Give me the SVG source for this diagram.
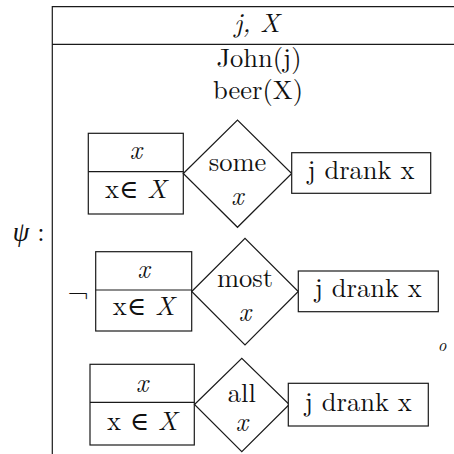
<svg xmlns="http://www.w3.org/2000/svg" width="454" height="454" viewBox="0 0 454 454">
<style>
.ln{fill:none;stroke:#1a1a1a;stroke-width:1.2}
.box{fill:#fff;stroke:#1a1a1a;stroke-width:1.2}
text{fill:#111;text-anchor:middle}
.it{font-style:italic}
.el{font-family:DejaVu Serif, serif;font-size:26px;font-style:normal;font-weight:normal}
</style>
<rect width="454" height="454" fill="#fff"/>
<g font-family="Latin Modern Roman, Liberation Serif, serif" font-size="26.5">
<g id="frame">
<path class="ln" d="M52.3,454 V6.7 H454 M52.3,44.3 H454"/>
<text x="257" y="32" class="it">j, X</text>
<text x="259" y="67">John(j)</text>
<text x="258" y="99">beer(X)</text>
<text x="21" y="241" class="it">ψ</text>
<text x="41" y="241">:</text>
</g>
<g id="connectors"/>
<g id="row1">
<g id="ref1">
<rect class="box" x="88.3" y="133.3" width="95" height="80.7"/>
<path class="ln" d="M88.3,171.7 H183.3"/>
<text x="135.8" y="159" class="it">x</text>
<text x="135.8" y="198">x<tspan class="el">∈</tspan> <tspan class="it">X</tspan></text>
</g>
<g id="q1">
<path class="box" d="M183.3,173.5 L237.5,120 L291.7,173.5 L237.5,227.3 Z"/>
<text x="237.5" y="171">some</text>
<text x="237.5" y="205" class="it">x</text>
</g>
<g id="s1">
<rect class="box" x="291.7" y="152.7" width="139" height="40.6"/>
<text x="361" y="178.5">j drank x</text>
</g>
</g>
<g id="row2">
<text x="78" y="303">¬</text>
<g id="ref2">
<rect class="box" x="95.7" y="251.7" width="96" height="79.3"/>
<path class="ln" d="M95.7,290 H191.7"/>
<text x="143.7" y="278" class="it">x</text>
<text x="143.7" y="315">x<tspan class="el">∈</tspan> <tspan class="it">X</tspan></text>
</g>
<g id="q2">
<path class="box" d="M191.7,291.5 L245,238.3 L298.3,291.5 L245,345 Z"/>
<text x="245" y="287">most</text>
<text x="245" y="321" class="it">x</text>
</g>
<g id="s2">
<rect class="box" x="298.3" y="271" width="140" height="40.7"/>
<text x="368.3" y="297.3">j drank x</text>
</g>
</g>
<g id="row3">
<g id="ref3">
<rect class="box" x="90" y="364.3" width="104.3" height="80.7"/>
<path class="ln" d="M90,402.3 H194.3"/>
<text x="142.2" y="391.7" class="it">x</text>
<text x="142.2" y="430">x <tspan class="el">∈</tspan> <tspan class="it">X</tspan></text>
</g>
<g id="q3">
<path class="box" d="M194.5,404.5 L241.8,358.3 L289.3,404.5 L241.8,451.7 Z"/>
<text x="241.8" y="402">all</text>
<text x="241.8" y="431" class="it">x</text>
</g>
<g id="s3">
<rect class="box" x="288.3" y="383.3" width="140" height="42.7"/>
<text x="358.3" y="411">j drank x</text>
</g>
</g>
<text x="442" y="351" class="it" font-size="17">o</text>
</g>
</svg>
